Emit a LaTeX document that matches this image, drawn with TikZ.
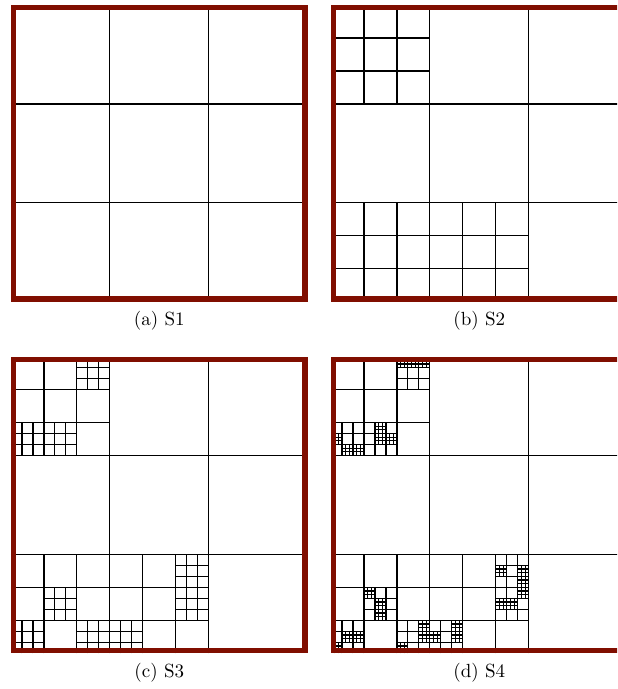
\documentclass[tikz,border=0pt]{standalone}
\usepackage{tikz}
\definecolor{framered}{RGB}{128,14,0}
\tikzset{
  cell/.style={line width=0.6pt, black},
  frame/.style={line width=2.8pt, framered},
  caption/.style={inner sep=0pt}
}
% cut the square (#1,#2) of side #3 into 3x3
\newcommand{\refine}[3]{%
  \foreach \k in {1,2}{%
    \draw[cell] ({#1*#3+\k*#3/3},{#2*#3}) -- ++(0,#3);
    \draw[cell] ({#1*#3},{#2*#3+\k*#3/3}) -- ++(#3,0);
  }}
% refined cells, one list per level
\def\levone{0/2,0/0,1/0}
\def\levtwo{2/8,0/6,1/6,5/2,1/1,5/1,0/0,2/0,3/0}
\def\levthree{6/26,7/26,8/26,0/19,1/18,2/18,4/20,4/19,5/19,3/5,4/4,4/3,1/1,2/1,0/0,6/0,8/2,8/1,9/1,11/2,11/1,15/7,17/7,17/6,17/5,15/4,16/4}
\begin{document}
\begin{tikzpicture}[x=52pt,y=52pt]
\useasboundingbox (0,0) rectangle (6.239,6.967);
\clip (0,0) rectangle (6.239,6.967);

% S1
\begin{scope}[shift={(0.111,3.916)}]
  \refine{0}{0}{3}
  \draw[frame] (0.027,0.027) rectangle (2.973,2.973);
\end{scope}
\node[caption] (capa) at (1.611,3.724) {(a) S1};

% S2
\begin{scope}[shift={(3.347,3.916)}]
  \refine{0}{0}{3}
  \foreach \i/\j in \levone {\refine{\i}{\j}{1}}
  \draw[frame] (0.027,0.027) rectangle (2.973,2.973);
\end{scope}
\node[caption] (capb) at (4.847,3.724) {(b) S2};

% S3
\begin{scope}[shift={(0.111,0.361)}]
  \refine{0}{0}{3}
  \foreach \i/\j in \levone {\refine{\i}{\j}{1}}
  \foreach \i/\j in \levtwo {\refine{\i}{\j}{1/3}}
  \draw[frame] (0.027,0.027) rectangle (2.973,2.973);
\end{scope}
\node[caption] (capc) at (1.611,0.169) {(c) S3};

% S4
\begin{scope}[shift={(3.347,0.361)}]
  \refine{0}{0}{3}
  \foreach \i/\j in \levone {\refine{\i}{\j}{1}}
  \foreach \i/\j in \levtwo {\refine{\i}{\j}{1/3}}
  \foreach \i/\j in \levthree {\refine{\i}{\j}{1/9}}
  \draw[frame] (0.027,0.027) rectangle (2.973,2.973);
\end{scope}
\node[caption] (capd) at (4.847,0.169) {(d) S4};
\end{tikzpicture}
\end{document}
